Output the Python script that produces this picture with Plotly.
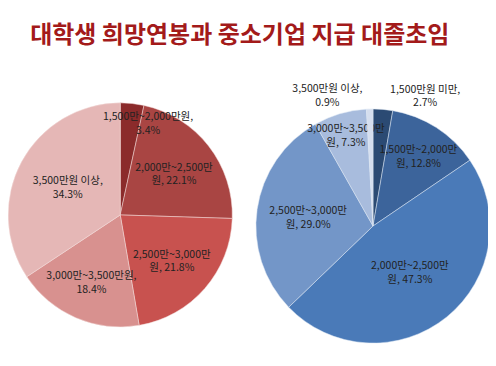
import plotly.graph_objects as go

title = "대학생 희망연봉과 중소기업 지급 대졸초임"

left_labels = ["1,500만~2,000만원", "2,000만~2,500만원", "2,500만~3,000만원", "3,000만~3,500만원", "3,500만원 이상"]
left_values = [3.4, 22.1, 21.8, 18.4, 34.3]
left_text = ["1,500만~2,000만원,<br>3.4%", "2,000만~2,500만<br>원, 22.1%", "2,500만~3,000만<br>원, 21.8%", "3,000만~3,500만원,<br>18.4%", "3,500만원 이상,<br>34.3%"]
left_colors = ["#8B2B2B", "#A94543", "#C8524F", "#D8918F", "#E5B7B6"]

right_labels = ["1,500만원 미만", "1,500만~2,000만원", "2,000만~2,500만원", "2,500만~3,000만원", "3,000만~3,500만원", "3,500만원 이상"]
right_values = [2.7, 12.8, 47.3, 29.0, 7.3, 0.9]
right_text = ["1,500만원 미만,<br>2.7%", "1,500만~2,000만<br>원, 12.8%", "2,000만~2,500만<br>원, 47.3%", "2,500만~3,000만<br>원, 29.0%", "3,000만~3,500만<br>원, 7.3%", "3,500만원 이상,<br>0.9%"]
right_colors = ["#2B4A73", "#3C649B", "#4A7AB8", "#7396C8", "#A8BCDD", "#D5DEEE"]

font = "Noto Sans CJK KR"

fig = go.Figure()
fig.add_trace(go.Pie(
    labels=left_labels, values=left_values,
    text=[""] + left_text[1:],
    textinfo="text", textposition="inside", insidetextorientation="horizontal",
    sort=False, direction="clockwise", rotation=0,
    marker=dict(colors=left_colors, line=dict(color="#F2DCDB", width=0.5)),
    textfont=dict(family=font, size=10.5, color="#222222"),
    domain=dict(x=[0.0, 0.46], y=[0.109, 0.735]),
    showlegend=False, hoverinfo="label+value",
))
fig.add_trace(go.Pie(
    labels=right_labels, values=right_values, text=right_text,
    textinfo="text", textposition=["outside", "inside", "inside", "inside", "inside", "outside"],
    insidetextorientation="horizontal",
    sort=False, direction="clockwise", rotation=0,
    marker=dict(colors=right_colors, line=dict(color="#DCE6F2", width=0.5)),
    textfont=dict(family=font, size=10.5, color="#222222"),
    domain=dict(x=[0.508, 0.988], y=[0.064, 0.718]),
    showlegend=False, hoverinfo="label+value",
))
# label of the thin first slice of the left pie, sitting inside near the top
fig.add_annotation(
    text=left_text[0], xref="paper", yref="paper", x=0.287, y=0.725,
    xanchor="center", yanchor="top", showarrow=False, align="center",
    font=dict(family=font, size=10.5, color="#222222"),
)
fig.update_layout(
    width=488, height=358,
    margin=dict(l=0, r=0, t=0, b=0),
    paper_bgcolor="white", plot_bgcolor="white",
    title=dict(text="<b>" + title + "</b>", x=0.475, xanchor="center", y=0.927, yanchor="middle",
               font=dict(family=font, size=24, color="#A31A1A")),
    uniformtext=dict(minsize=10.5, mode="show"),
)
fig.write_html("out.html")
